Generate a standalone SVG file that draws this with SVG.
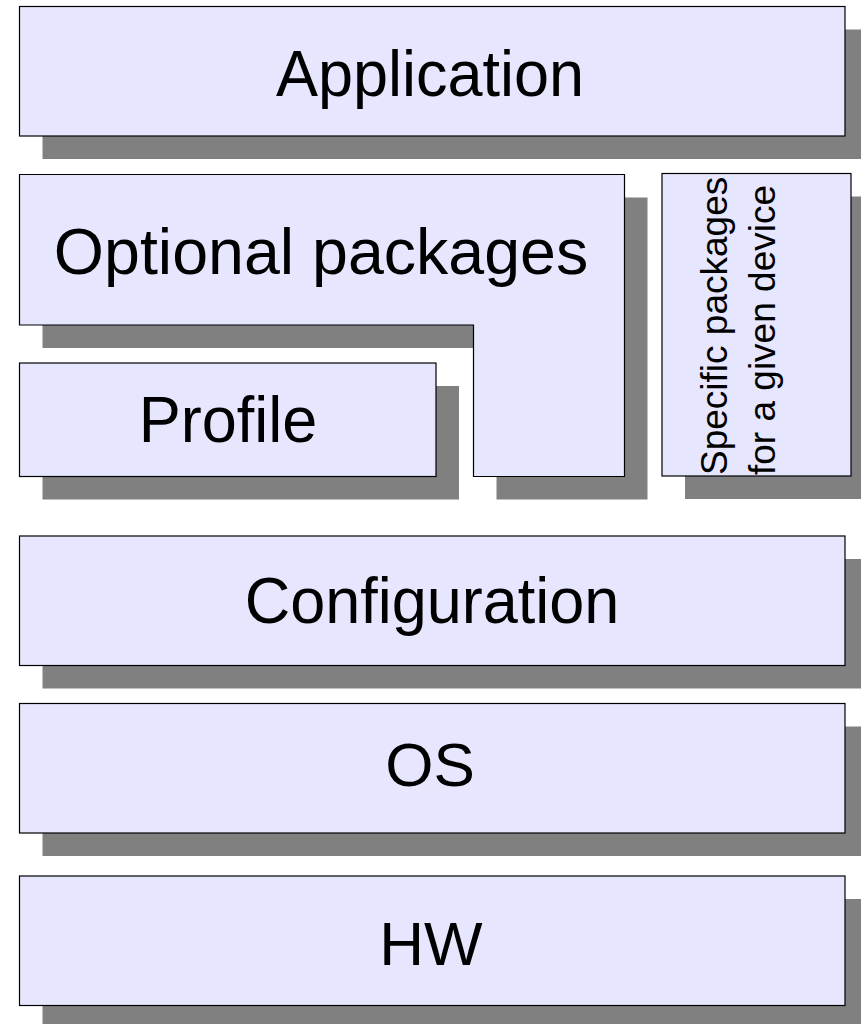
<svg xmlns="http://www.w3.org/2000/svg" width="861" height="1024" viewBox="0 0 861 1024">
  <style>
    .shadow { fill: #808080; stroke: none; }
    .box { fill: #e6e6ff; stroke: #000; stroke-width: 1.2; }
    .label { font-family: "Liberation Sans", Arial, sans-serif; font-size: 62px; fill: #000; text-anchor: middle; }
    .vlabel { font-family: "Liberation Sans", Arial, sans-serif; font-size: 37px; fill: #000; }
  </style>
  <rect width="861" height="1024" fill="#fff"/>

  <!-- Application layer -->
  <g id="application">
    <rect class="shadow" x="42.5" y="29.5" width="825.5" height="129.5"/>
    <rect class="box" x="19.5" y="6.5" width="825.5" height="129.5"/>
    <text class="label" style="font-size:63px" transform="translate(430,96) scale(1,1.04)">Application</text>
  </g>

  <!-- Optional packages (L-shaped block) -->
  <g id="optional-packages">
    <path class="shadow" d="M42.5,197.5 H647.5 V499.5 H496.5 V348 H42.5 Z"/>
    <path class="box" d="M19.5,174.5 H624.5 V476.5 H473.5 V325 H19.5 Z"/>
    <text class="label" style="font-size:64.5px" x="321" y="273.5">Optional packages</text>
  </g>

  <!-- Profile -->
  <g id="profile">
    <rect class="shadow" x="42.5" y="386" width="416.5" height="113.5"/>
    <rect class="box" x="19.5" y="363" width="416.5" height="113.5"/>
    <text class="label" style="font-size:63px" transform="translate(228,442) scale(1,1.04)">Profile</text>
  </g>

  <!-- Device-specific packages -->
  <g id="specific-packages">
    <rect class="shadow" x="685" y="196.5" width="189" height="302.5"/>
    <rect class="box" x="662" y="173.5" width="189" height="302.5"/>
    <text class="vlabel" transform="translate(727,475) rotate(-90)">
      <tspan x="0" y="0">Specific packages</tspan>
      <tspan x="0" y="48">for a given device</tspan>
    </text>
  </g>

  <!-- Configuration -->
  <g id="configuration">
    <rect class="shadow" x="42.5" y="559" width="825.5" height="129.5"/>
    <rect class="box" x="19.5" y="536" width="825.5" height="129.5"/>
    <text class="label" style="font-size:63px" transform="translate(432,623) scale(1,1.04)">Configuration</text>
  </g>

  <!-- OS -->
  <g id="os">
    <rect class="shadow" x="42.5" y="726.5" width="825.5" height="129.5"/>
    <rect class="box" x="19.5" y="703.5" width="825.5" height="129.5"/>
    <text class="label" x="430" y="786">OS</text>
  </g>

  <!-- HW -->
  <g id="hw">
    <rect class="shadow" x="42.5" y="899" width="825.5" height="129.5"/>
    <rect class="box" x="19.5" y="876" width="825.5" height="129.5"/>
    <text class="label" x="431" y="965">HW</text>
  </g>

  <g id="connectors"/>
</svg>
